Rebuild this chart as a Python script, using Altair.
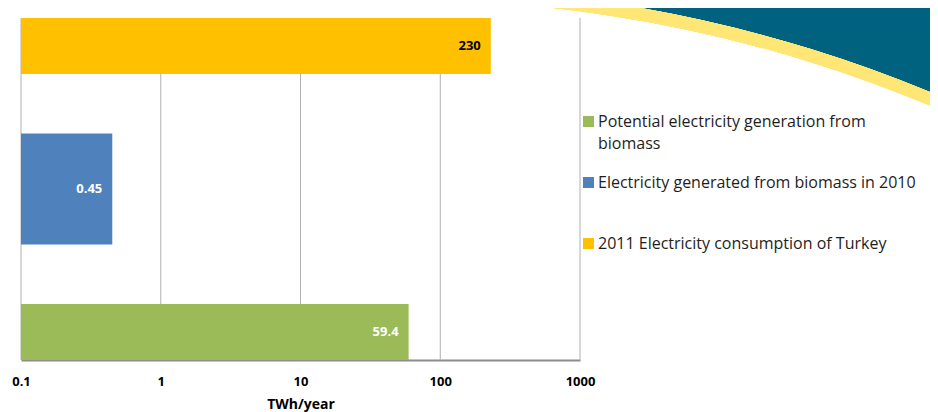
import altair as alt
import pandas as pd

# ---- data ----
series = [
    "2011 Electricity consumption of Turkey",
    "Electricity generated from biomass in 2010",
    "Potential electricity generation from biomass",
]
values = [230, 0.45, 59.4]
value_labels = ["230", "0.45", "59.4"]
legend_order = [series[2], series[1], series[0]]
legend_text = [
    "Potential electricity generation from\nbiomass",
    "Electricity generated from biomass in 2010",
    "2011 Electricity consumption of Turkey",
]
tick_values = [0.1, 1, 10, 100, 1000]

# ---- styles ----
colors = ["#FFC000", "#4F81BD", "#9BBB59"]
label_colors = ["#000000", "#FFFFFF", "#FFFFFF"]
bar_heights = [56, 111, 56]
bar_shift = [-29, 0, 29]
FONT = "Open Sans"

bars_df = pd.DataFrame({"series": series, "value": values, "label": value_labels})
grid_df = pd.DataFrame({"value": tick_values})
legend_df = pd.DataFrame({"series": legend_order, "text": legend_text})

color_scale = alt.Scale(domain=series, range=colors)

x_enc = alt.X(
    "value:Q",
    scale=alt.Scale(type="log", domain=[0.1, 1000], range=[0, 559], nice=False),
    axis=alt.Axis(
        values=tick_values, format="~g", grid=False, ticks=False, tickSize=0,
        labelPadding=15, labelFont=FONT, labelFontSize=13, labelFontWeight="bold",
        labelColor="#000000", domainColor="#8C8C8C", domainWidth=2,
        title="TWh/year", titleFont=FONT, titleFontSize=14, titleFontWeight="bold",
        titleColor="#000000", titlePadding=9, labelFlush=False,
    ),
)
y_enc = alt.Y(
    "series:N", sort=series,
    scale=alt.Scale(domain=series, range=[10, 352], paddingInner=0, paddingOuter=0),
    axis=None,
)

grid = alt.Chart(grid_df).mark_rule(color="#B0B0B0", strokeWidth=1).encode(
    x=x_enc, y=alt.value(10), y2=alt.value(352)
)

layers = [grid]
for i, s in enumerate(series):
    base = alt.Chart(bars_df).transform_filter(alt.datum.series == s)
    layers.append(
        base.mark_bar(height=bar_heights[i], yOffset=bar_shift[i]).encode(
            x=x_enc, x2=alt.datum(0.1), y=y_enc,
            color=alt.Color("series:N", scale=color_scale, legend=None),
        )
    )
    layers.append(
        base.mark_text(
            align="right", baseline="middle", dx=-10, yOffset=bar_shift[i],
            font=FONT, fontSize=13, fontWeight="bold", color=label_colors[i],
        ).encode(x=x_enc, y=y_enc, text="label:N")
    )

# legend drawn to the right of the plot
leg_y = alt.Y(
    "series:N", sort=legend_order,
    scale=alt.Scale(type="point", domain=legend_order, range=[113.5, 235.5], padding=0),
    axis=None,
)
leg_sq = alt.Chart(legend_df).mark_square(size=121, opacity=1).encode(
    x=alt.value(567.5), y=leg_y,
    color=alt.Color("series:N", scale=color_scale, legend=None),
)
leg_tx = alt.Chart(legend_df).mark_text(
    align="left", baseline="top", dy=-7.5, lineBreak="\n", lineHeight=22,
    font=FONT, fontSize=16, color="#1E1E1E",
).encode(x=alt.value(577), y=leg_y, text="text:N")

# decorative swoosh in the top-right corner
teal = alt.Chart(grid_df).mark_arc(
    radius=1500, radius2=1384, theta=0, theta2=0.6, color="#00627F", clip=True
).encode(x=alt.value(380), y=alt.value(1363))
yellow = alt.Chart(grid_df).mark_arc(
    radius=1384, radius2=1371.5, theta=0, theta2=0.6, color="#FFE675", clip=True
).encode(x=alt.value(380), y=alt.value(1363))

chart = (
    alt.layer(teal, yellow, *layers, leg_sq, leg_tx)
    .resolve_scale(y="independent")
    .properties(
        width=909, height=352,
        autosize=alt.AutoSizeParams(type="none"),
        padding={"left": 13, "top": 0, "right": 0, "bottom": 52},
        background="white",
    )
    .configure_view(stroke=None)
)

chart.save("out.html", embed_options={"renderer": "svg", "actions": False})
